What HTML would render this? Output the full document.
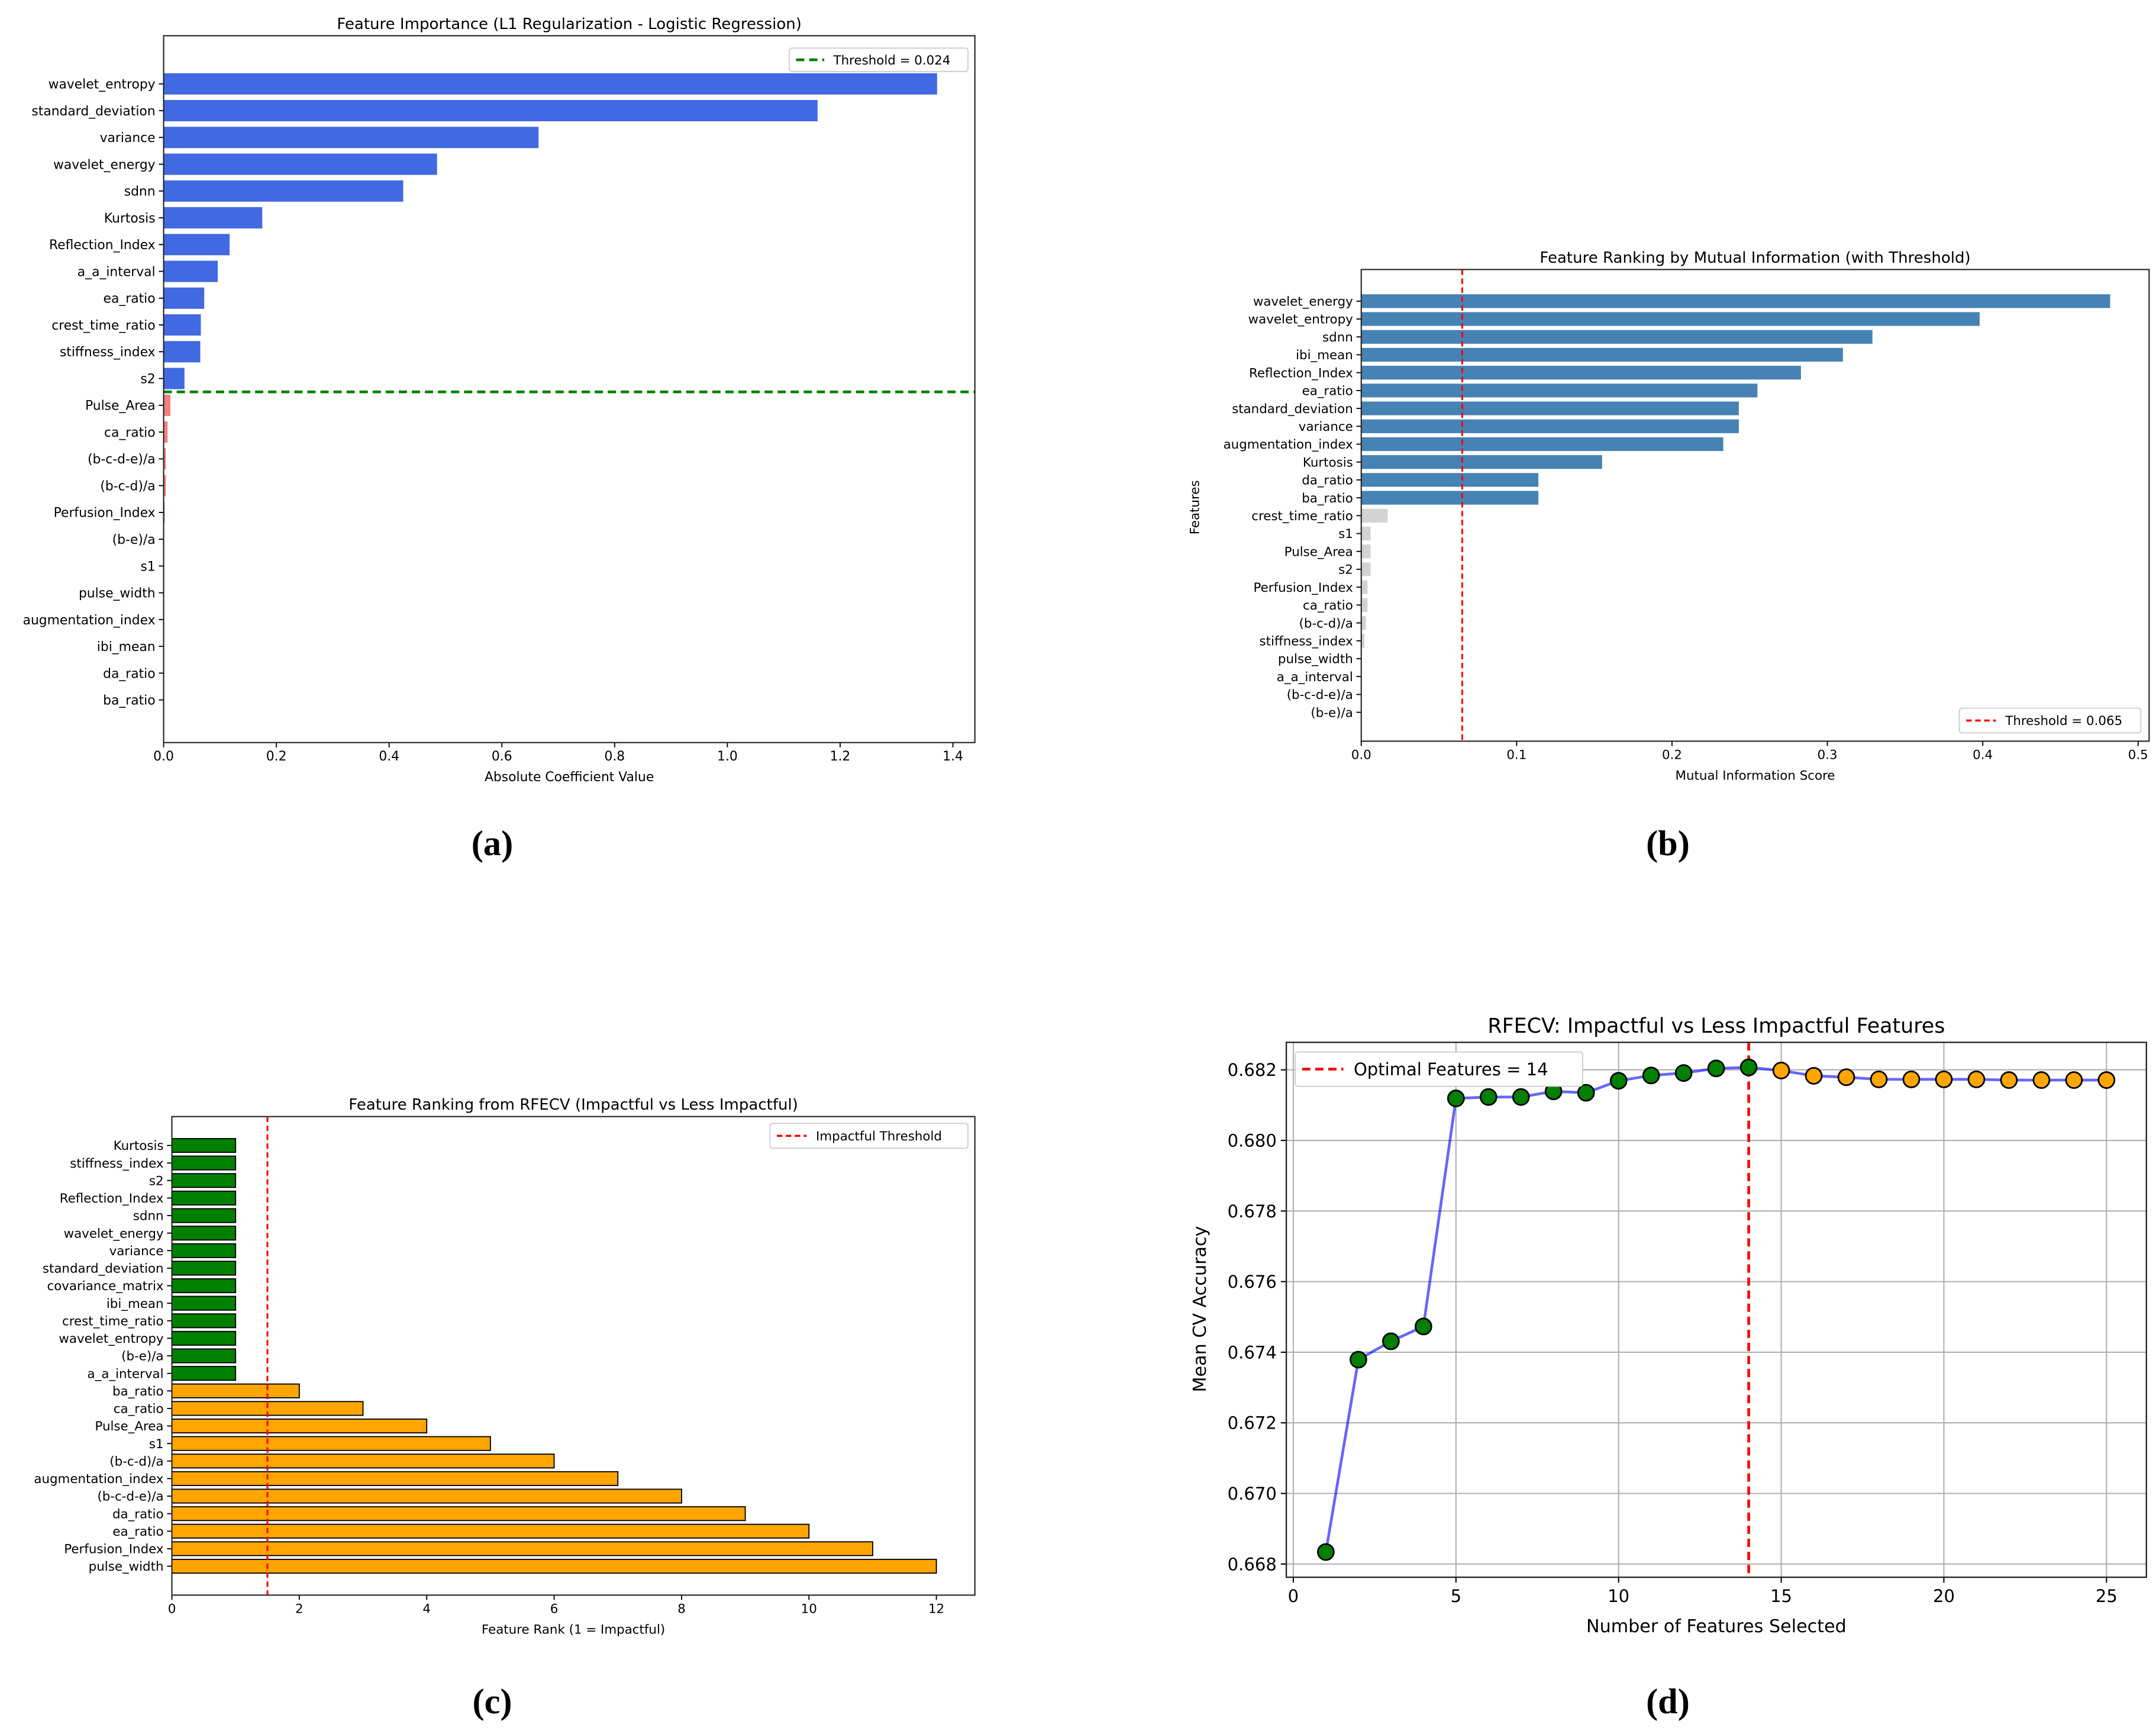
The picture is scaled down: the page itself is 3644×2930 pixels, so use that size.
<!DOCTYPE html>
<html><head><meta charset="utf-8"><style>
html,body{margin:0;padding:0;background:#fff;}
svg{display:block;}
text{font-family:"DejaVu Sans","Liberation Sans",sans-serif;fill:#000;}
</style></head><body>
<svg id="fig" xmlns="http://www.w3.org/2000/svg" width="3644" height="2930" viewBox="0 0 1568 1261" preserveAspectRatio="none">
<rect width="1568" height="1261" fill="#fff"/>
</svg>
<script>
// ---- Panel A data ----
const aCats=["wavelet_entropy","standard_deviation","variance","wavelet_energy","sdnn","Kurtosis","Reflection_Index","a_a_interval","ea_ratio","crest_time_ratio","stiffness_index","s2","Pulse_Area","ca_ratio","(b-c-d-e)/a","(b-c-d)/a","Perfusion_Index","(b-e)/a","s1","pulse_width","augmentation_index","ibi_mean","da_ratio","ba_ratio"];
const aVals=[1.372,1.16,0.665,0.485,0.425,0.175,0.117,0.096,0.072,0.066,0.065,0.037,0.012,0.007,0.004,0.004,0.002,0,0,0,0,0,0,0];
const aTicks=[0,0.2,0.4,0.6,0.8,1.0,1.2,1.4];
const aThreshold=0.024;
// ---- Panel B data ----
const bCats=["wavelet_energy","wavelet_entropy","sdnn","ibi_mean","Reflection_Index","ea_ratio","standard_deviation","variance","augmentation_index","Kurtosis","da_ratio","ba_ratio","crest_time_ratio","s1","Pulse_Area","s2","Perfusion_Index","ca_ratio","(b-c-d)/a","stiffness_index","pulse_width","a_a_interval","(b-c-d-e)/a","(b-e)/a"];
const bVals=[0.482,0.398,0.329,0.31,0.283,0.255,0.243,0.243,0.233,0.155,0.114,0.114,0.017,0.006,0.006,0.006,0.004,0.004,0.003,0.002,0,0,0,0];
const bTicks=[0,0.1,0.2,0.3,0.4,0.5];
const bThreshold=0.065;
// ---- Panel C data ----
const cCats=["Kurtosis","stiffness_index","s2","Reflection_Index","sdnn","wavelet_energy","variance","standard_deviation","covariance_matrix","ibi_mean","crest_time_ratio","wavelet_entropy","(b-e)/a","a_a_interval","ba_ratio","ca_ratio","Pulse_Area","s1","(b-c-d)/a","augmentation_index","(b-c-d-e)/a","da_ratio","ea_ratio","Perfusion_Index","pulse_width"];
const cVals=[1,1,1,1,1,1,1,1,1,1,1,1,1,1,2,3,4,5,6,7,8,9,10,11,12];
const cTicks=[0,2,4,6,8,10,12];
const cThreshold=1.5;
// ---- Panel D data ----
const dX=[1,2,3,4,5,6,7,8,9,10,11,12,13,14,15,16,17,18,19,20,21,22,23,24,25];
const dY=[0.66834,0.67379,0.67431,0.67473,0.68119,0.68123,0.68123,0.68139,0.68135,0.68169,0.68184,0.68191,0.68204,0.68207,0.68198,0.68183,0.68179,0.68173,0.68173,0.68173,0.68173,0.68171,0.68171,0.68171,0.68171];
const dXTicks=[0,5,10,15,20,25];
const dYTicks=[0.668,0.670,0.672,0.674,0.676,0.678,0.680,0.682];
const dOptimal=14;

const NS="http://www.w3.org/2000/svg";
const svg=document.getElementById('fig');
function el(tag,attrs,parent,txt){const e=document.createElementNS(NS,tag);for(const k in attrs)e.setAttribute(k,attrs[k]);if(txt!==undefined)e.textContent=txt;(parent||svg).appendChild(e);return e;}

function hbar(cfg){
  const g=el('g',{});
  
  
  const sx=v=>cfg.L+(v-cfg.x0)/(cfg.x1-cfg.x0)*(cfg.X1-cfg.L);
  const step=(cfg.yLast-cfg.yFirst)/(cfg.cats.length-1);
  const sy=i=>cfg.yFirst+i*step;
  cfg.cats.forEach((c,i)=>{
    const v=cfg.vals[i];
    const r=el('rect',{x:cfg.L,y:sy(i)-cfg.bh/2,width:Math.max(0,sx(v)-cfg.L),height:cfg.bh,fill:cfg.color(v,i)},g);
    if(cfg.edge){r.setAttribute('stroke','#000');r.setAttribute('stroke-width','0.8');}
    
    
    el('line',{x1:cfg.L-3.5,x2:cfg.L,y1:sy(i),y2:sy(i),stroke:'#000','stroke-width':0.8},g);
    const t=el('text',{x:cfg.L-6,y:sy(i)+cfg.fs*0.36,'text-anchor':'end','font-size':cfg.fs},g,c);
    
    
  });
  cfg.ticks.forEach(v=>{
    el('line',{x1:sx(v),x2:sx(v),y1:cfg.B,y2:cfg.B+3.5,stroke:'#000','stroke-width':0.8},g);
    const t=el('text',{x:sx(v),y:cfg.B+13,'text-anchor':'middle','font-size':cfg.fs},g,cfg.fmt(v));
    
    
  });
  cfg.extra(g,sx,sy,step);
  el('rect',{x:cfg.L,y:cfg.T,width:cfg.R-cfg.L,height:cfg.B-cfg.T,fill:'none',stroke:'#222','stroke-width':0.9},g);
  const tt=el('text',{x:(cfg.L+cfg.R)/2,y:cfg.T-5,'text-anchor':'middle','font-size':cfg.tfs},g,cfg.title);
  
  
  const xl=el('text',{x:(cfg.L+cfg.R)/2,y:cfg.B+28,'text-anchor':'middle','font-size':cfg.fs},g,cfg.xlabel);
  
  
  return g;
}
function legend(g,x,y,w,h,color,dash,label,fs,lw){
  const lg=el('g',{},g);
  
  
  el('rect',{x:x,y:y,width:w,height:h,rx:2,fill:'#fff',stroke:'#ccc','stroke-width':0.8},lg);
  el('line',{x1:x+5,x2:x+5+h*1.2,y1:y+h/2,y2:y+h/2,stroke:color,'stroke-width':lw,'stroke-dasharray':dash},lg);
  el('text',{x:x+10+h*1.3,y:y+h/2+fs*0.36,'font-size':fs},lg,label);
}

// Panel A
hbar({name:'panel-a-l1-importance',L:119,R:709,T:26,B:540,x0:0,x1:1.4,X1:693,cats:aCats,vals:aVals,yFirst:61,yLast:509,bh:15.5,fs:9.4,tfs:11.2,
 ticks:aTicks,fmt:v=>v.toFixed(1),title:'Feature Importance (L1 Regularization - Logistic Regression)',xlabel:'Absolute Coefficient Value',
 color:v=>v>=aThreshold?'#4169e1':'#f08080',
 extra:(g,sx,sy,step)=>{
   const iCut=aVals.findIndex(v=>v<aThreshold);
   const y=sy(iCut)-step/2;
   const l=el('line',{x1:119,x2:709,y1:y,y2:y,stroke:'#008000','stroke-width':2,'stroke-dasharray':'6,3.5'},g);
   
   
   legend(g,574,35,130,17,'#008000','6,3.5','Threshold = '+aThreshold,9.2,2);
 }});

// Panel B
hbar({name:'panel-b-mutual-info',L:990,R:1563,T:196,B:539,x0:0,x1:0.5,X1:1555,cats:bCats,vals:bVals,yFirst:219,yLast:518,bh:10,fs:9.2,tfs:11.2,
 ticks:bTicks,fmt:v=>v.toFixed(1),title:'Feature Ranking by Mutual Information (with Threshold)',xlabel:'Mutual Information Score',
 color:v=>v>=bThreshold?'#4682b4':'#d3d3d3',
 extra:(g,sx)=>{
   const x=sx(bThreshold);
   const l=el('line',{x1:x,x2:x,y1:196,y2:539,stroke:'#ff0000','stroke-width':1.3,'stroke-dasharray':'4,2.5'},g);
   
   
   legend(g,1425,515,132,18,'#ff0000','4,2.5','Threshold = '+bThreshold,9.2,1.5);
   const yl=el('text',{x:0,y:0,'text-anchor':'middle','font-size':9.2,transform:'translate(872,369) rotate(-90)'},g,'Features');
   
   
 }});

// Panel C
hbar({name:'panel-c-rfecv-ranking',L:125,R:709,T:812,B:1160,x0:0,x1:12,X1:681,cats:cCats,vals:cVals,yFirst:833,yLast:1139,bh:10,fs:9.2,tfs:11.2,
 ticks:cTicks,fmt:v=>String(v),title:'Feature Ranking from RFECV (Impactful vs Less Impactful)',xlabel:'Feature Rank (1 = Impactful)',edge:true,
 color:v=>v<=cThreshold?'#008000':'#ffa500',
 extra:(g,sx)=>{
   const x=sx(cThreshold);
   const l=el('line',{x1:x,x2:x,y1:812,y2:1160,stroke:'#ff0000','stroke-width':1.3,'stroke-dasharray':'4,2.5'},g);
   
   
   legend(g,560,817,144,18,'#ff0000','4,2.5','Impactful Threshold',9.2,1.5);
 }});

// Panel D
(function(){
  const g=el('g',{});
  
  
  const L=935.5,R=1561,T=758,B=1147;
  const sx=v=>940.6+v/25*(1532-940.6);
  const sy=v=>778+(0.682-v)/0.014*(1137.4-778);
  dXTicks.forEach(v=>{
    el('line',{x1:sx(v),x2:sx(v),y1:T,y2:B,stroke:'#b0b0b0','stroke-width':0.9},g);
    el('line',{x1:sx(v),x2:sx(v),y1:B,y2:B+4,stroke:'#000','stroke-width':0.9},g);
    const t=el('text',{x:sx(v),y:B+18,'text-anchor':'middle','font-size':12.5},g,String(v));
    
    
  });
  dYTicks.forEach(v=>{
    el('line',{x1:L,x2:R,y1:sy(v),y2:sy(v),stroke:'#b0b0b0','stroke-width':0.9},g);
    el('line',{x1:L-4,x2:L,y1:sy(v),y2:sy(v),stroke:'#000','stroke-width':0.9},g);
    const t=el('text',{x:L-7,y:sy(v)+4.5,'text-anchor':'end','font-size':12.5},g,v.toFixed(3));
    
    
  });
  const ol=el('line',{x1:sx(dOptimal),x2:sx(dOptimal),y1:T,y2:B,stroke:'#ff0000','stroke-width':2,'stroke-dasharray':'6,3.5'},g);
  
  
  const pl=el('polyline',{points:dX.map((x,i)=>sx(x)+','+sy(dY[i])).join(' '),fill:'none',stroke:'#0000ff','stroke-opacity':0.6,'stroke-width':2},g);
  
  
  dX.forEach((x,i)=>{
    const c=el('circle',{cx:sx(x),cy:sy(dY[i]),r:5.8,fill:x<=dOptimal?'#008000':'#ffa500',stroke:'#000','stroke-width':1.2},g);
    
    
  });
  el('rect',{x:L,y:T,width:R-L,height:B-T,fill:'none',stroke:'#222','stroke-width':1},g);
  legend(g,942,765,209,25,'#ff0000','6,3.5','Optimal Features = '+dOptimal,12.5,2);
  const tt=el('text',{x:(L+R)/2,y:751,'text-anchor':'middle','font-size':15},g,'RFECV: Impactful vs Less Impactful Features');
  
  
  const xl=el('text',{x:(L+R)/2,y:1187,'text-anchor':'middle','font-size':13},g,'Number of Features Selected');
  
  
  const yl=el('text',{x:0,y:0,'text-anchor':'middle','font-size':13,transform:'translate(877,952) rotate(-90)'},g,'Mean CV Accuracy');
  
  
})();

// captions
[['(a)',358,622],['(b)',1213,622],['(c)',358,1246],['(d)',1213,1246]].forEach(c=>{
  const t=el('text',{x:c[1],y:c[2],'text-anchor':'middle','font-size':26,'font-weight':'bold',style:'font-family:"Liberation Serif",serif'},svg,c[0]);
  
  
});
</script>
</body></html>
